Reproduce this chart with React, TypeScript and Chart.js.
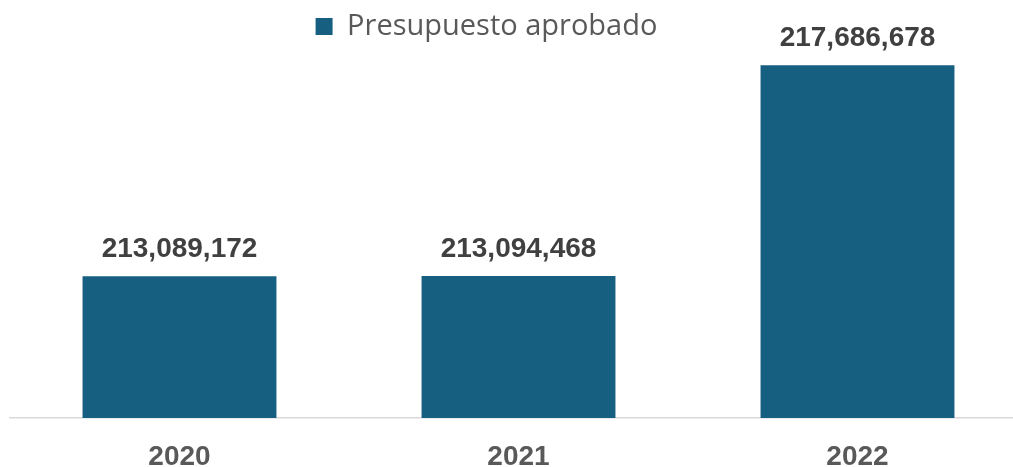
import React, { useEffect, useRef } from "react";
import { Chart, registerables } from "chart.js";

Chart.register(...registerables);

const categories = ["2020", "2021", "2022"];
const seriesName = "Presupuesto aprobado";
const presupuesto = [213089172, 213094468, 217686678];
const yMin = 210000000;
const yMax = 218000000;

const BAR_COLOR = "#175F80";

const valueLabels = {
  id: "valueLabels",
  afterDatasetsDraw(chart: any) {
    const ctx = chart.ctx;
    const meta = chart.getDatasetMeta(0);
    const data = chart.data.datasets[0].data as number[];
    ctx.save();
    ctx.font = "bold 28px 'Liberation Sans', Arial, sans-serif";
    ctx.fillStyle = "#404040";
    ctx.textAlign = "center";
    ctx.textBaseline = "alphabetic";
    meta.data.forEach((bar: any, i: number) => {
      ctx.fillText(data[i].toLocaleString("en-US"), bar.x, bar.y - 19.5);
    });
    ctx.restore();
  },
};

const legendShift = {
  id: "legendShift",
  afterLayout(chart: any) {
    const lg = chart.legend;
    if (lg) {
      lg.left -= 32;
      lg.right -= 32;
    }
  },
};

export default function App() {
  const ref = useRef<HTMLCanvasElement | null>(null);
  useEffect(() => {
    if (!ref.current) return;
    const chart = new Chart(ref.current, {
      type: "bar",
      data: {
        labels: categories,
        datasets: [
          {
            label: seriesName,
            data: presupuesto,
            backgroundColor: BAR_COLOR,
            borderWidth: 0,
            categoryPercentage: 1,
            barPercentage: 0.572,
          },
        ],
      },
      plugins: [valueLabels, legendShift],
      options: {
        animation: false,
        responsive: true,
        maintainAspectRatio: false,
        layout: { padding: { left: 10, right: 0, top: 0, bottom: 0 } },
        plugins: {
          tooltip: { enabled: false },
          legend: {
            display: true,
            position: "top",
            align: "center",
            labels: {
              boxWidth: 17,
              boxHeight: 17,
              padding: 12,
              color: "#595959",
              font: { family: "'Open Sans', sans-serif", size: 29 },
            },
          },
        },
        scales: {
          x: {
            offset: true,
            grid: { display: false, drawTicks: false, tickLength: 0 },
            border: { display: true, color: "#d9d9d9", width: 1.5 },
            ticks: {
              padding: 22.7,
              color: "#595959",
              font: { family: "'Liberation Sans', Arial, sans-serif", size: 28, weight: "bold" },
            },
          },
          y: {
            display: false,
            min: yMin,
            max: yMax,
          },
        },
      },
    });
    return () => chart.destroy();
  }, []);
  return (
    <div style={{ position: "fixed", left: 0, top: 0, width: 1027, height: 497 }}>
      <canvas ref={ref} />
    </div>
  );
}
